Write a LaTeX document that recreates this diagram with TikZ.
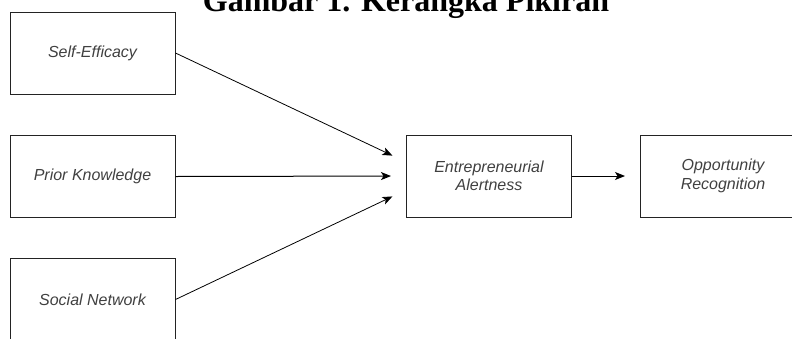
\documentclass[tikz,border=0pt]{standalone}
\usepackage{fontspec}
\setmainfont{Liberation Serif}
\setsansfont{Liberation Sans}
\usepackage{tikz}
\usetikzlibrary{arrows.meta,positioning}
\definecolor{boxline}{RGB}{35,35,35}
\definecolor{boxtext}{RGB}{64,64,64}

\begin{document}
\begin{tikzpicture}[x=1pt,y=-1pt,>={Stealth[length=10pt,width=8pt,inset=2.5pt]},
    var/.style={draw=boxline,line width=1pt,minimum width=165pt,minimum height=82pt,
      align=center,text=boxtext,font=\sffamily\itshape\fontsize{16}{18.5}\selectfont},
    link/.style={->,line width=1pt,shorten >=15pt}]
    \useasboundingbox (0,0) rectangle (792,338);
    \node[font=\bfseries\fontsize{32}{36}\selectfont,anchor=base] (title) at (406,11)
      {Gambar 1. Kerangka Pikiran};
    % predictors
    \node[var] (self) at (92.5,53) {Self-Efficacy};
    \node[var] (prior) at (92.5,176.5) {Prior Knowledge};
    \node[var] (social) at (92.5,299.5) {Social Network};
    % mediator and outcome
    \node[var] (alert) at (489,176) {Entrepreneurial\\Alertness};
    \node[var,right=68pt of alert] (recog) {Opportunity\\Recognition};
    \draw[link,line width=0.8pt] (self.east) -- ([yshift=14pt]alert.west);
    \draw[link] (prior.east) -- (alert.west);
    \draw[link,line width=0.8pt] (social.east) -- ([yshift=-14pt]alert.west);
    \draw[link] (alert) -- (recog);
  \end{tikzpicture}
\end{document}
